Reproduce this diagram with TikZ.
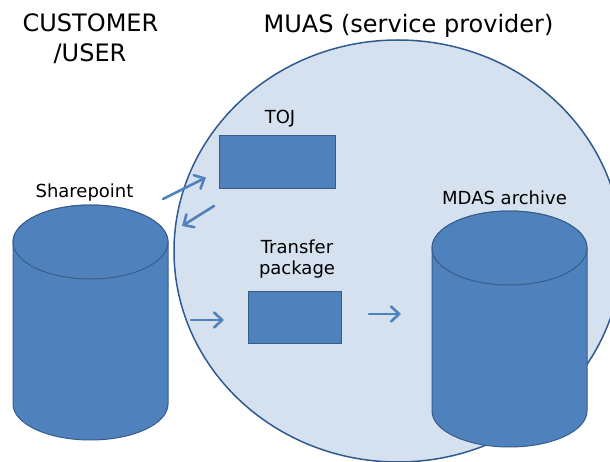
\documentclass[tikz,border=0pt]{standalone}
\usepackage{fontspec}
\setmainfont{DejaVu Sans}
\usetikzlibrary{arrows.meta}
\definecolor{officeblue}{HTML}{4F81BD}
\definecolor{officeedge}{HTML}{385D8A}
\definecolor{paleblue}{RGB}{214,225,240}
\definecolor{ringedge}{HTML}{2F5A8E}
\tikzset{
  bigtitle/.style={font=\fontsize{24}{28}\selectfont, anchor=base, inner sep=0pt},
  smalllabel/.style={font=\fontsize{18}{22}\selectfont, anchor=base, inner sep=0pt},
  cylfill/.style={fill=officeblue, draw=officeedge, line width=1pt},
  boxfill/.style={fill=officeblue, draw=officeedge, line width=1pt},
  flow/.style={draw=officeblue, line width=2.6pt, line cap=round, -{Straight Barb[length=8pt,width=15pt,line cap=round]}},
}
\begin{document}
\begin{tikzpicture}[x=1pt,y=-1pt]
\useasboundingbox (0,0) rectangle (610,462);
\clip (0,0) rectangle (610,462);
\fill[white] (0,0) rectangle (610,462);
% service provider region
\draw[fill=paleblue, draw=ringedge, line width=1.5pt] (398,251) ellipse [x radius=224pt, y radius=211pt];
% titles
\node[bigtitle] (cust) at (90.5,32) {CUSTOMER};
\node[bigtitle] (user) at (90,62) {/USER};
\node[bigtitle] (muas) at (408.5,33) {MUAS (service provider)};
% left cylinder (Sharepoint)
\draw[cylfill] (13,242) -- (13,404) arc[start angle=180, end angle=360, x radius=77.5pt, y radius=36pt] -- (168,242) arc[start angle=0, end angle=180, x radius=77.5pt, y radius=37pt] -- cycle;
\draw[cylfill] (90.5,242) ellipse [x radius=77.5pt, y radius=37pt];
\node[smalllabel] (sp) at (84.5,198) {Sharepoint};
% right cylinder (MDAS archive)
\draw[cylfill] (432,248) -- (432,411) arc[start angle=180, end angle=360, x radius=77.5pt, y radius=36pt] -- (587,248) arc[start angle=0, end angle=180, x radius=77.5pt, y radius=37pt] -- cycle;
\draw[cylfill] (509.5,248) ellipse [x radius=77.5pt, y radius=37pt];
\node[smalllabel] (mdas) at (504.5,205) {MDAS archive};
% TOJ box
\node[boxfill, minimum width=116pt, minimum height=53pt, inner sep=0pt] (toj) at (277,162.5) {};
\node[smalllabel] (tojl) at (280,124) {TOJ};
% Transfer package box
\node[boxfill, minimum width=93pt, minimum height=52pt, inner sep=0pt] (tp) at (294.5,317) {};
\node[smalllabel] (tpl1) at (297,254) {Transfer};
\node[smalllabel] (tpl2) at (297,275) {package};
% arrows
\coordinate (a1s) at (163,199); \coordinate (a1e) at (206,177.5);
\coordinate (a2s) at (214,206); \coordinate (a2e) at (182,226);
\coordinate (a3s) at (191,320); \coordinate (a3e) at (224,320);
\coordinate (a4s) at (369,314); \coordinate (a4e) at (401,314);
\draw[flow] (a1s) -- (a1e);
\draw[flow] (a2s) -- (a2e);
\draw[flow] (a3s) -- (a3e);
\draw[flow] (a4s) -- (a4e);
\end{tikzpicture}
\end{document}
